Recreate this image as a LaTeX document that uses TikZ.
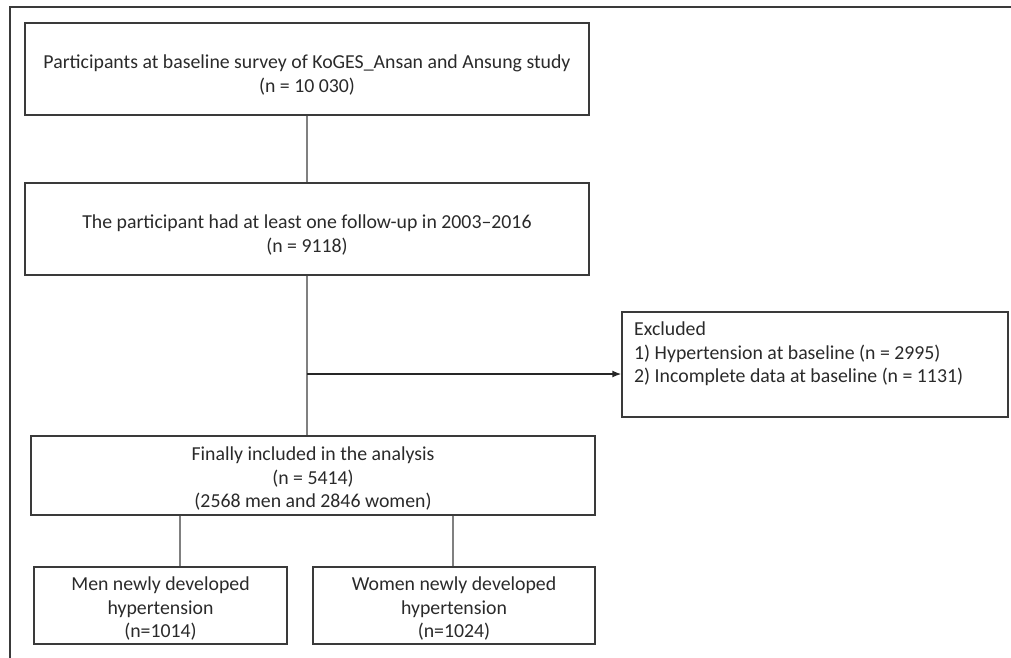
\documentclass[tikz,border=0pt]{standalone}
\usepackage{fontspec}
\setmainfont{Carlito}
\usetikzlibrary{arrows.meta}
\definecolor{boxline}{HTML}{3A3A3A}
\definecolor{connline}{HTML}{808080}
\definecolor{txt}{HTML}{2A2A2A}
\begin{document}
\begin{tikzpicture}[x=1pt,y=-1pt,
  txtfont/.style={text=txt,font=\fontsize{19.8}{23.5}\selectfont},
  flowbox/.style={draw=boxline,line width=1.4pt,inner sep=0pt,align=center,txtfont},
  conn/.style={draw=connline,line width=1.2pt},
  arr/.style={draw=black!85,line width=1.4pt,-{Latex[length=9pt,width=7pt]}}]
\useasboundingbox (0,0) rectangle (1011,657);
\draw[draw=boxline,line width=1.6pt] (10,660) -- (10,7) -- (1015,7);
\node[flowbox,minimum width=564pt,minimum height=92pt] (b1) at (307,69)
  {\rule{0pt}{26pt}Participants at baseline survey of KoGES\_Ansan and Ansung study\\(n = 10 030)};
\node[flowbox,minimum width=564pt,minimum height=92pt] (b2) at (307,229)
  {\rule{0pt}{26pt}The participant had at least one follow-up in 2003--2016\\(n = 9118)};
\node[flowbox,minimum width=564pt,minimum height=79pt] (b3) at (313,475.5)
  {\rule{0pt}{20pt}Finally included in the analysis\\(n = 5414)\\(2568 men and 2846 women)};
\node[flowbox,minimum width=386pt,minimum height=105pt] (ex) at (815,364.5) {};
\node[txtfont,align=left,anchor=north west,inner sep=0pt]
  (ext) at (634,322) {Excluded\\1) Hypertension at baseline (n = 2995)\\2) Incomplete data at baseline (n = 1131)};
\node[flowbox,minimum width=253pt,minimum height=77pt] (men) at (160.5,605.5)
  {\rule{0pt}{20pt}Men newly developed\\hypertension\\(n=1014)};
\node[flowbox,minimum width=282pt,minimum height=77pt] (wom) at (454,605.5)
  {\rule{0pt}{20pt}Women newly developed\\hypertension\\(n=1024)};
\draw[conn] (b1.south) -- (b2.north);
\draw[conn] (b2.south) -- (b2.south |- b3.north);
\coordinate (j) at (307,374);
\draw[arr] (j) -- (j -| ex.west);
\draw[conn] (180,0 |- b3.south) -- (180,0 |- men.north);
\draw[conn] (453,0 |- b3.south) -- (453,0 |- wom.north);
\end{tikzpicture}
\end{document}
